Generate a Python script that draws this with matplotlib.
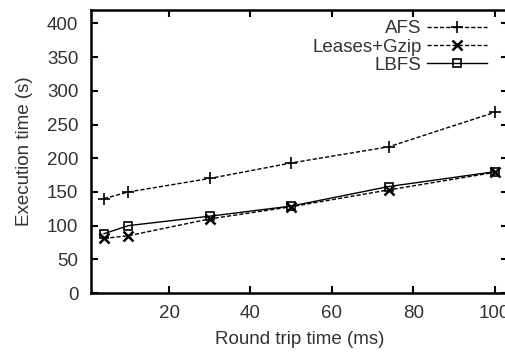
import matplotlib
matplotlib.use("Agg")
import matplotlib.pyplot as plt

plt.rcParams['font.family'] = ['Liberation Sans', 'DejaVu Sans']

# data
rtt = [4, 10, 30, 50, 74, 100]
afs = [140, 150, 170, 193, 217, 268]
leases_gzip = [81, 85, 110, 128, 153, 179]
lbfs = [88, 100, 114, 129, 158, 180]

fig = plt.figure(figsize=(5.06, 3.52), dpi=100)
ax = fig.add_axes([91/506, 1 - 293/352, (508 - 91)/506, (293 - 10)/352])

dash = (0, (3, 1.5))
ax.plot(rtt, afs, color='black', lw=1.0, linestyle=dash, marker='+',
        markersize=9, markeredgewidth=1.2, label='AFS')
ax.plot(rtt, leases_gzip, color='black', lw=1.0, linestyle=dash, marker='x',
        markersize=7, markeredgewidth=1.8, label='Leases+Gzip')
ax.plot(rtt, lbfs, color='black', lw=1.0, linestyle='-', marker='s',
        markersize=6, markerfacecolor='none', markeredgewidth=1.2, label='LBFS')

ax.set_xlim(0.8, 103.3)
ax.set_ylim(0, 420)
ax.set_xticks([20, 40, 60, 80, 100])
ax.set_yticks(range(0, 401, 50))
ax.tick_params(direction='in', length=5, width=1.5, labelsize=13.5,
               top=True, right=True, colors='black', labelcolor='#333333')
ax.tick_params(axis='y', pad=9)
ax.tick_params(axis='x', pad=9)
for s in ax.spines.values():
    s.set_linewidth(1.8)
ax.grid(False)

ax.set_xlabel('Round trip time (ms)', fontsize=13.5, color='#333333', labelpad=6)
ax.set_ylabel('Execution time (s)', fontsize=13.5, color='#333333', labelpad=10)

leg = ax.legend(loc='upper right', bbox_to_anchor=(0.975, 1.0), frameon=False,
                fontsize=13.5, markerfirst=False, handlelength=3.2,
                handletextpad=0.3, labelspacing=0.05, borderaxespad=0.15)
for t in leg.get_texts():
    t.set_ha('right')
    t.set_color('#333333')
leg._legend_box.align = 'right'

fig.savefig('out.png', dpi=100)
